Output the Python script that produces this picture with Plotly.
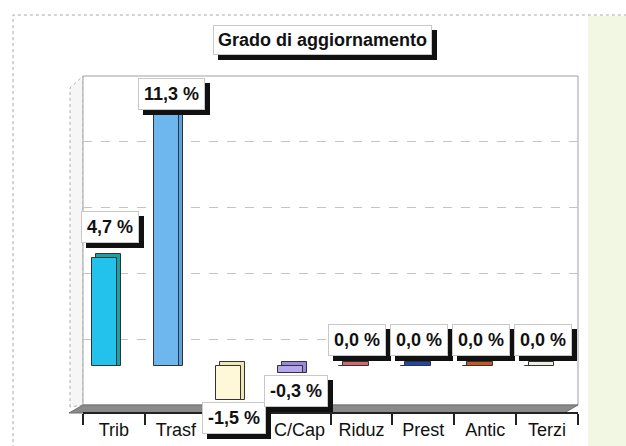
import plotly.graph_objects as go

# data
categories = ["Trib", "Trasf", "Extra", "C/Cap", "Riduz", "Prest", "Antic", "Terzi"]
values = [4.7, 11.3, -1.5, -0.3, 0.0, 0.0, 0.0, 0.0]
value_labels = ["4,7 %", "11,3 %", "-1,5 %", "-0,3 %", "0,0 %", "0,0 %", "0,0 %", "0,0 %"]

front_colors = ["#22C2EC", "#6DB6EE", "#FFF8D8", "#B6A6EE", "#E07C7C", "#2658CC", "#D8652A", "#F8F8F0"]
depth_colors = ["#14A3A8", "#5AA2E2", "#EEE6B4", "#9A88DE", "#D06A6A", "#1E48B0", "#C45A22", "#EEEEE4"]
label_dy = [31, 12, -18, -18, 26, 26, 26, 26]

W, H = 626, 446
FONT = "Liberation Sans, Arial, sans-serif"


def px(x):
    return x / W


def py(y):
    return 1 - y / H


def path(points):
    return "M " + " L ".join(f"{px(a):.4f},{py(b):.4f}" for a, b in points) + " Z"


depth = 0.18
depth_base = [min(v, 0) for v in values]
depth_height = [abs(v) + depth for v in values]

fig = go.Figure()

# 3D side/top face (drawn behind, shifted right)
fig.add_trace(go.Bar(
    x=categories, y=depth_height, base=depth_base,
    width=0.41, offset=-0.29,
    marker=dict(color=depth_colors, line=dict(color="#333333", width=1)),
    hoverinfo="skip", showlegend=False,
))
# front face
fig.add_trace(go.Bar(
    x=categories, y=values,
    width=0.41, offset=-0.355,
    marker=dict(color=front_colors, line=dict(color="#333333", width=1)),
    hoverinfo="skip", showlegend=False,
))
# invisible trace to carry the front category axis
fig.add_trace(go.Scatter(
    x=categories, y=[0] * len(categories), xaxis="x2", yaxis="y",
    mode="markers", marker=dict(opacity=0), hoverinfo="skip", showlegend=False,
))

shapes = [
    # outer dotted frame
    dict(type="rect", xref="paper", yref="paper", x0=px(13), x1=1.05, y0=-0.05, y1=py(15),
         line=dict(color="#A8A8A8", width=1, dash="dot"), layer="below"),
    # greenish tint at right edge (scan)
    dict(type="rect", xref="paper", yref="paper", x0=px(588), x1=1, y0=0, y1=py(16),
         fillcolor="rgba(226,238,196,0.45)", line=dict(width=0), layer="below"),
    # left wall
    dict(type="path", xref="paper", yref="paper", path=path([(70, 407), (70, 88), (83, 76), (83, 405)]),
         fillcolor="#F6F6F6", line=dict(color="#B0B0B0", width=1, dash="dot"), layer="below"),
    # back wall
    dict(type="rect", xref="paper", yref="paper", x0=px(83), x1=px(578), y0=py(405), y1=py(76),
         fillcolor="white", line=dict(color="#A0A0A0", width=1), layer="below"),
    # floor
    dict(type="path", xref="paper", yref="paper", path=path([(69, 413), (83, 405), (578, 405), (564, 413)]),
         fillcolor="#8A8A8A", line=dict(color="#6E6E6E", width=1), layer="below"),
]

annotations = []


def boxed(text, size, pad, **pos):
    t = f"<b>{text}</b>"
    pos.update(xanchor="center", yanchor="middle")
    shadow = dict(pos)
    shadow["xshift"] = pos.get("xshift", 0) + 5
    shadow["yshift"] = pos.get("yshift", 0) - 5
    annotations.append(dict(text=t, showarrow=False, bgcolor="#111111", borderpad=pad,
                            bordercolor="#111111", borderwidth=1,
                            font=dict(family=FONT, size=size, color="#111111"), **shadow))
    annotations.append(dict(text=t, showarrow=False, bgcolor="white", borderpad=pad,
                            bordercolor="#C8C8C8", borderwidth=1,
                            font=dict(family=FONT, size=size, color="#111111"), **pos))


boxed("Grado di aggiornamento", 18, 4, xref="paper", yref="paper", x=px(322), y=py(40))

for cat, v, lab, dy in zip(categories, values, value_labels, label_dy):
    boxed(lab, 18, 5, xref="x", yref="y", x=cat, y=v, xshift=-4, yshift=dy)

fig.update_layout(
    width=W, height=H, autosize=False,
    margin=dict(l=0, r=0, t=0, b=0),
    paper_bgcolor="white", plot_bgcolor="rgba(0,0,0,0)",
    barmode="overlay", bargap=0,
    font=dict(family=FONT, color="#111111"),
    xaxis=dict(domain=[px(83), px(578)], type="category", categoryarray=categories,
               range=[-0.5, 7.5], showticklabels=False, ticks="", showgrid=False,
               showline=False, zeroline=False, fixedrange=True),
    xaxis2=dict(domain=[px(69), px(564)], type="category", categoryarray=categories,
                range=[-0.5, 7.5], anchor="free", position=py(413), overlaying="x",
                showline=True, linecolor="#222222", linewidth=2,
                ticks="outside", tickson="boundaries", ticklen=11, tickwidth=1.5,
                tickcolor="#222222", showgrid=False,
                tickfont=dict(family=FONT, size=18, color="#111111")),
    yaxis=dict(domain=[py(405), py(76)], range=[-1.7, 12.6],
               tick0=1.13, dtick=2.88, showticklabels=False, ticks="",
               showgrid=True, gridcolor="#C4C4C4", griddash="dash", gridwidth=1,
               zeroline=False, showline=False, fixedrange=True),
    shapes=shapes,
    annotations=annotations,
)

fig.write_html("out.html", config={"displayModeBar": False},
               post_script="document.body.style.margin='0';document.body.style.overflow='hidden';")
